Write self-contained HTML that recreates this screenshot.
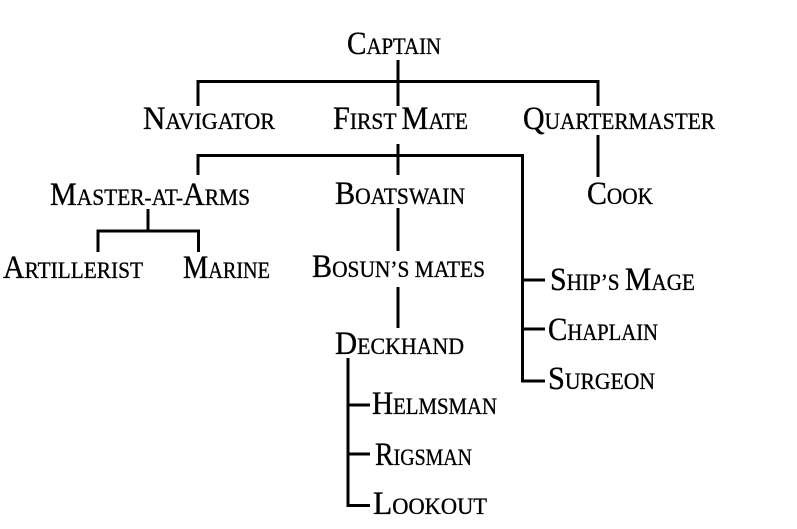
<!DOCTYPE html>
<html>
<head>
<meta charset="utf-8">
<style>
  html, body { margin: 0; padding: 0; background: #fff; }
  body { width: 797px; height: 529px; overflow: hidden; }
  svg { display: block; }
  text { font-family: "Liberation Serif", serif; fill: #000; stroke: #000; stroke-width: 0.35; }
</style>
</head>
<body>
<svg width="797" height="529" viewBox="0 0 797 529" xmlns="http://www.w3.org/2000/svg">
  <g fill="none" stroke="#000" stroke-width="3" stroke-linejoin="miter" stroke-linecap="butt">
    <!-- Captain -->
    <path d="M398 60 V106"/>
    <path d="M198 106 V81.5 H598 V106"/>
    <!-- First Mate down -->
    <path d="M398 144 V175"/>
    <path d="M198 175 V155.5 H522.5 V381 H545"/>
    <path d="M522.5 280 H545"/>
    <path d="M522.5 329 H545"/>
    <!-- Quartermaster to Cook -->
    <path d="M598 135 V177"/>
    <!-- Master-at-Arms -->
    <path d="M148 209 V231"/>
    <path d="M98 252 V231 H198.5 V252"/>
    <!-- Boatswain -->
    <path d="M398 208 V251"/>
    <!-- Bosun's mates -->
    <path d="M398 287 V328"/>
    <!-- Deckhand -->
    <path d="M348 358 V505.5 H370"/>
    <path d="M348 405 H370"/>
    <path d="M348 454 H370"/>
  </g>

  <text x="347" y="54" textLength="94" lengthAdjust="spacingAndGlyphs"><tspan font-size="33">C</tspan><tspan font-size="23.5">APTAIN</tspan></text>

  <text x="143" y="129" textLength="132" lengthAdjust="spacingAndGlyphs"><tspan font-size="33">N</tspan><tspan font-size="23.5">AVIGATOR</tspan></text>
  <text x="333" y="129" textLength="135" lengthAdjust="spacingAndGlyphs"><tspan font-size="33">F</tspan><tspan font-size="23.5">IRST </tspan><tspan font-size="33">M</tspan><tspan font-size="23.5">ATE</tspan></text>
  <text x="523" y="129" textLength="192" lengthAdjust="spacingAndGlyphs"><tspan font-size="33">Q</tspan><tspan font-size="23.5">UARTERMASTER</tspan></text>

  <text x="50" y="205" textLength="200" lengthAdjust="spacingAndGlyphs"><tspan font-size="33">M</tspan><tspan font-size="23.5">ASTER-AT-</tspan><tspan font-size="33">A</tspan><tspan font-size="23.5">RMS</tspan></text>
  <text x="335" y="204" textLength="130" lengthAdjust="spacingAndGlyphs"><tspan font-size="33">B</tspan><tspan font-size="23.5">OATSWAIN</tspan></text>
  <text x="587" y="204" textLength="66" lengthAdjust="spacingAndGlyphs"><tspan font-size="33">C</tspan><tspan font-size="23.5">OOK</tspan></text>

  <text x="3" y="278" textLength="140" lengthAdjust="spacingAndGlyphs"><tspan font-size="33">A</tspan><tspan font-size="23.5">RTILLERIST</tspan></text>
  <text x="183" y="278" textLength="87" lengthAdjust="spacingAndGlyphs"><tspan font-size="33">M</tspan><tspan font-size="23.5">ARINE</tspan></text>
  <text x="312" y="277" textLength="173" lengthAdjust="spacingAndGlyphs"><tspan font-size="33">B</tspan><tspan font-size="23.5">OSUN’S MATES</tspan></text>

  <text x="550" y="290" textLength="145" lengthAdjust="spacingAndGlyphs"><tspan font-size="33">S</tspan><tspan font-size="23.5">HIP’S </tspan><tspan font-size="33">M</tspan><tspan font-size="23.5">AGE</tspan></text>
  <text x="548" y="340" textLength="110" lengthAdjust="spacingAndGlyphs"><tspan font-size="33">C</tspan><tspan font-size="23.5">HAPLAIN</tspan></text>
  <text x="335" y="354" textLength="129" lengthAdjust="spacingAndGlyphs"><tspan font-size="33">D</tspan><tspan font-size="23.5">ECKHAND</tspan></text>
  <text x="548" y="389" textLength="107" lengthAdjust="spacingAndGlyphs"><tspan font-size="33">S</tspan><tspan font-size="23.5">URGEON</tspan></text>

  <text x="372" y="414" textLength="125" lengthAdjust="spacingAndGlyphs"><tspan font-size="33">H</tspan><tspan font-size="23.5">ELMSMAN</tspan></text>
  <text x="375" y="465" textLength="97" lengthAdjust="spacingAndGlyphs"><tspan font-size="33">R</tspan><tspan font-size="23.5">IGSMAN</tspan></text>
  <text x="373" y="514" textLength="114" lengthAdjust="spacingAndGlyphs"><tspan font-size="33">L</tspan><tspan font-size="23.5">OOKOUT</tspan></text>
</svg>
</body>
</html>
